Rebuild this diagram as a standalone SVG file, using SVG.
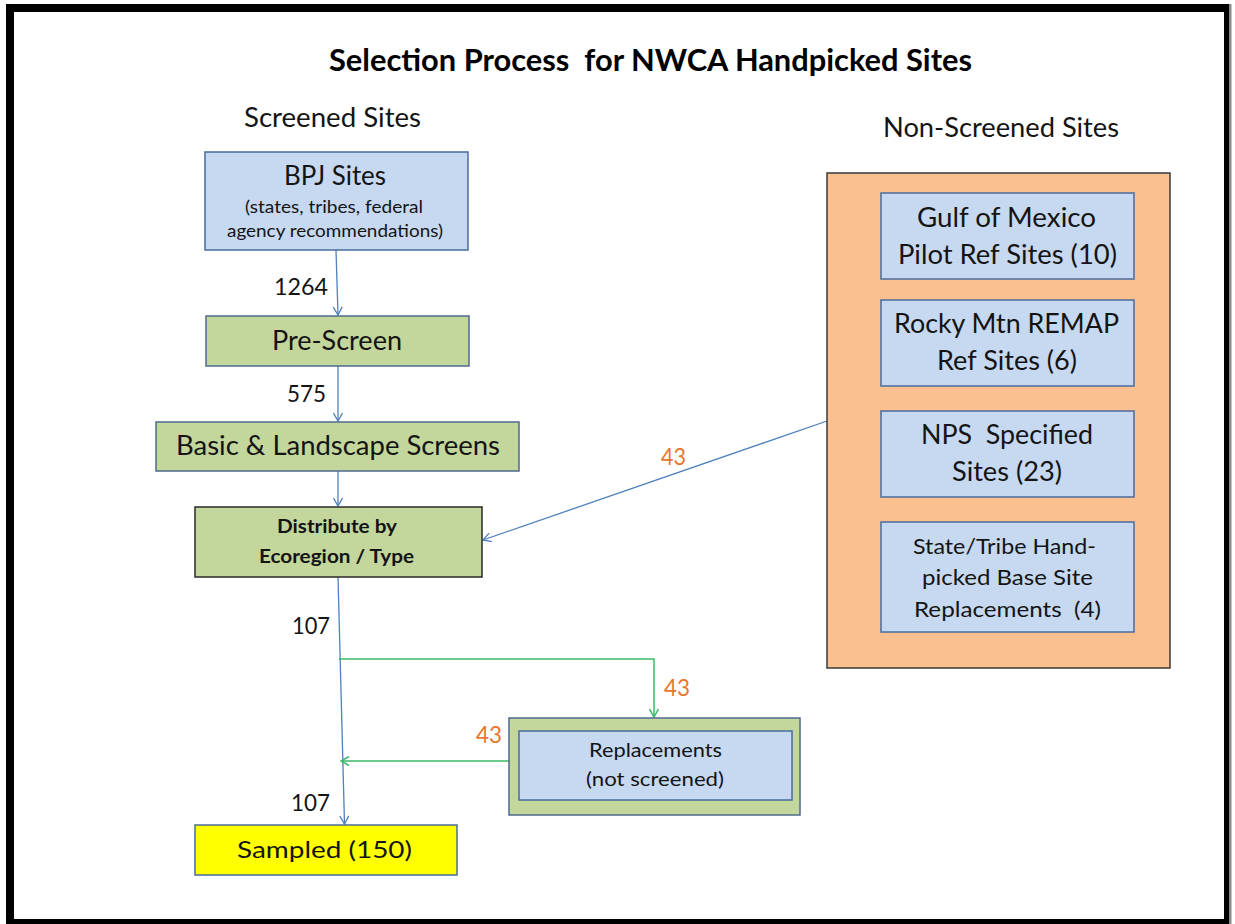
<svg xmlns="http://www.w3.org/2000/svg" width="1235" height="924" viewBox="0 0 1235 924">
  <style>
    text { font-family: Lato, "Liberation Sans", sans-serif; fill: #141414; text-anchor: middle; }
    .title { font-size: 30px; font-weight: bold; fill: #000; white-space: pre; }
    .head { font-size: 26px; }
    .big { font-size: 26px; }
    .mid { font-size: 22px; }
    .small { font-size: 18px; }
    .bold { font-weight: bold; }
    .num { font-size: 23px; }
    .cnt { font-size: 24px; fill: #e8772e; }
    .pre { white-space: pre; }
    .blue { fill: #c6d9f1; stroke: #4a6c9b; stroke-width: 1.5; }
    .green { fill: #c3d69b; stroke: #4f6a8f; stroke-width: 1.5; }
    .greendark { fill: #c3d69b; stroke: #2a2a2a; stroke-width: 1.5; }
    .yellow { fill: #ffff00; stroke: #4a6c9b; stroke-width: 1.5; }
    .orange { fill: #fac090; stroke: #3a3a3a; stroke-width: 1.5; }
    .flow { fill: none; stroke: #4f81bd; stroke-width: 1.3; marker-end: url(#arrowBlue); }
    .alt { fill: none; stroke: #3cb96a; stroke-width: 1.5; marker-end: url(#arrowGreen); }
  </style>
  <defs>
    <marker id="arrowBlue" viewBox="0 0 10 10" refX="9" refY="5" markerWidth="10" markerHeight="10" markerUnits="userSpaceOnUse" orient="auto">
      <path d="M1,0.5 L9,5 L1,9.5" fill="none" stroke="#4f81bd" stroke-width="1.3"/>
    </marker>
    <marker id="arrowGreen" viewBox="0 0 10 10" refX="9" refY="5" markerWidth="10" markerHeight="10" markerUnits="userSpaceOnUse" orient="auto">
      <path d="M1,0.5 L9,5 L1,9.5" fill="none" stroke="#3cb96a" stroke-width="1.5"/>
    </marker>
  </defs>

  <!-- page background and frame -->
  <rect x="0" y="0" width="1235" height="924" fill="#ffffff"/>
  <g id="frame" fill="#000">
    <rect x="6" y="4" width="1223" height="8"/>
    <rect x="6" y="4" width="8" height="920"/>
    <rect x="1224" y="4" width="5" height="920"/>
    <rect x="6" y="919" width="1223" height="5"/>
    <rect x="1229" y="4" width="2.5" height="920" fill="#8a8a8a"/>
  </g>

  <!-- headings -->
  <text class="title" x="650.5" y="71" textLength="643" lengthAdjust="spacingAndGlyphs">Selection Process  for NWCA Handpicked Sites</text>
  <text class="head" x="332.5" y="127" textLength="177" lengthAdjust="spacingAndGlyphs">Screened Sites</text>
  <text class="head" x="1001" y="137" textLength="236" lengthAdjust="spacingAndGlyphs">Non-Screened Sites</text>

  <!-- connectors -->
  <g id="connectors">
    <line class="flow" x1="336" y1="250" x2="338" y2="315"/>
    <line class="flow" x1="338" y1="366" x2="338" y2="421"/>
    <line class="flow" x1="338" y1="471" x2="338" y2="506"/>
    <line class="flow" x1="338" y1="577" x2="344.5" y2="824"/>
    <polyline class="alt" points="339,659 654,659 654,717"/>
    <line class="alt" x1="509" y1="761" x2="341" y2="761"/>
    <line class="flow" x1="827" y1="421" x2="483" y2="540"/>
    <text class="num" x="301" y="295" textLength="54" lengthAdjust="spacingAndGlyphs">1264</text>
    <text class="num" x="306.5" y="402" textLength="39" lengthAdjust="spacingAndGlyphs">575</text>
    <text class="num" x="311" y="634" textLength="38" lengthAdjust="spacingAndGlyphs">107</text>
    <text class="num" x="310.5" y="811" textLength="39" lengthAdjust="spacingAndGlyphs">107</text>
    <text class="cnt" x="673.5" y="465" textLength="25" lengthAdjust="spacingAndGlyphs">43</text>
    <text class="cnt" x="677" y="696" textLength="26" lengthAdjust="spacingAndGlyphs">43</text>
    <text class="cnt" x="489" y="743" textLength="26" lengthAdjust="spacingAndGlyphs">43</text>
  </g>

  <!-- screened flow -->
  <g id="bpj-sites">
    <rect class="blue" x="205" y="152" width="263" height="98"/>
    <text class="big" x="335" y="185" textLength="102" lengthAdjust="spacingAndGlyphs">BPJ Sites</text>
    <text class="small" x="334" y="213" textLength="178" lengthAdjust="spacingAndGlyphs">(states, tribes, federal</text>
    <text class="small" x="335" y="237" textLength="216" lengthAdjust="spacingAndGlyphs">agency recommendations)</text>
  </g>
  <g id="pre-screen">
    <rect class="green" x="206" y="316" width="263" height="50"/>
    <text class="big" x="337" y="350" textLength="130" lengthAdjust="spacingAndGlyphs">Pre-Screen</text>
  </g>
  <g id="basic-landscape">
    <rect class="green" x="156" y="422" width="363" height="49"/>
    <text class="big" x="338" y="455" textLength="324" lengthAdjust="spacingAndGlyphs">Basic &amp; Landscape Screens</text>
  </g>
  <g id="distribute">
    <rect class="greendark" x="195" y="507" width="287" height="70"/>
    <text class="bold" x="337" y="533" textLength="120" lengthAdjust="spacingAndGlyphs" style="font-size:19px">Distribute by</text>
    <text class="bold" x="336.5" y="563" textLength="155" lengthAdjust="spacingAndGlyphs" style="font-size:19px">Ecoregion / Type</text>
  </g>
  <g id="sampled">
    <rect class="yellow" x="195" y="825" width="262" height="50"/>
    <text x="324.5" y="858" textLength="175" lengthAdjust="spacingAndGlyphs" style="font-size:24px">Sampled (150)</text>
  </g>
  <g id="replacements">
    <rect class="green" x="509" y="718" width="291" height="97"/>
    <rect class="blue" x="519" y="731" width="273" height="69"/>
    <text x="655.5" y="757" textLength="133" lengthAdjust="spacingAndGlyphs" style="font-size:19px">Replacements</text>
    <text x="655" y="786" textLength="138" lengthAdjust="spacingAndGlyphs" style="font-size:19px">(not screened)</text>
  </g>

  <!-- non-screened sources -->
  <g id="non-screened">
    <rect class="orange" x="827" y="173" width="343" height="495"/>
  </g>
  <g id="gulf-of-mexico">
    <rect class="blue" x="881" y="193" width="253" height="86"/>
    <text class="big" x="1006.5" y="227" textLength="179" lengthAdjust="spacingAndGlyphs">Gulf of Mexico</text>
    <text class="big" x="1007.5" y="264" textLength="219" lengthAdjust="spacingAndGlyphs">Pilot Ref Sites (10)</text>
  </g>
  <g id="rocky-mtn">
    <rect class="blue" x="881" y="300" width="253" height="86"/>
    <text class="big" x="1006.5" y="333" textLength="225" lengthAdjust="spacingAndGlyphs">Rocky Mtn REMAP</text>
    <text class="big" x="1007" y="370" textLength="140" lengthAdjust="spacingAndGlyphs">Ref Sites (6)</text>
  </g>
  <g id="nps">
    <rect class="blue" x="881" y="411" width="253" height="86"/>
    <text class="big pre" x="1007" y="444" textLength="172" lengthAdjust="spacingAndGlyphs">NPS  Specified</text>
    <text class="big" x="1007" y="481" textLength="110" lengthAdjust="spacingAndGlyphs">Sites (23)</text>
  </g>
  <g id="state-tribe">
    <rect class="blue" x="881" y="522" width="253" height="110"/>
    <text class="mid" x="1004.5" y="554" textLength="183" lengthAdjust="spacingAndGlyphs">State/Tribe Hand-</text>
    <text class="mid" x="1007.5" y="585" textLength="171" lengthAdjust="spacingAndGlyphs">picked Base Site</text>
    <text class="mid pre" x="1007.5" y="617" textLength="187" lengthAdjust="spacingAndGlyphs">Replacements  (4)</text>
  </g>
</svg>
